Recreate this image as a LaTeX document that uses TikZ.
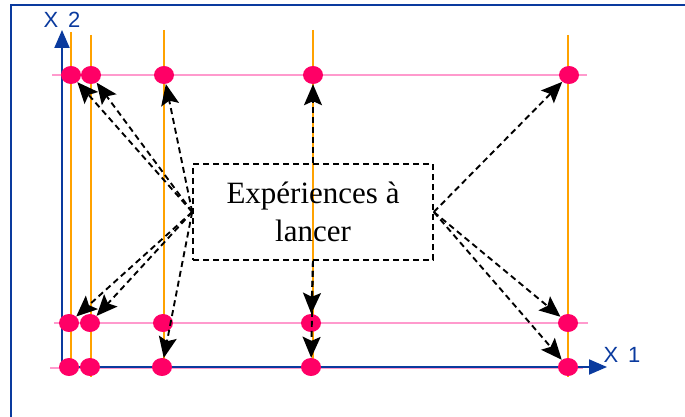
\documentclass[tikz,border=0pt]{standalone}
\usepackage{fontspec}
\setmainfont{Liberation Serif}
\setsansfont{Liberation Sans}
\usetikzlibrary{arrows.meta,positioning,shapes.geometric}
\definecolor{mAxis}{HTML}{0A3A9E}
\definecolor{mLevel}{HTML}{FFA200}
\definecolor{mGrid}{HTML}{FF9ACD}
\definecolor{mDot}{HTML}{FF0066}

\begin{document}
\begin{tikzpicture}[x=1pt,y=-1pt,>=Stealth,
    level/.style={mLevel,line width=2pt},
    gridline/.style={mGrid,line width=1.6pt},
    axis/.style={mAxis,line width=2pt,-{Triangle[length=18pt,width=15pt]}},
    expdot/.style={ellipse,fill=mDot,minimum width=20pt,minimum height=18pt,inner sep=0pt},
    launch/.style={dashed,dash pattern=on 6pt off 4pt,line width=1.9pt,
                   -{Stealth[length=21pt,width=18pt,inset=4pt]}},
    axlabel/.style={mAxis,font=\sffamily\fontsize{22}{24}\selectfont}]
  \clip (0,0) rectangle (685,417);
  % outer frame (runs off the page on the right and bottom)
  \draw[mAxis,line width=1.8pt] (11,5) rectangle (700,430);

  % levels of factor 2 (pink) and factor 1 (orange)
  \draw[gridline] (52,75) -- (587,75);
  \draw[gridline] (54,323) -- (588,323);
  \draw[gridline] (50,368) -- (583,368);
  \draw[level] (71,32) -- (71,374);
  \draw[level] (91,35) -- (91,377);
  \draw[level] (164,30) -- (164,375);
  \draw[level] (313,30) -- (313,375);
  \draw[level] (568,35) -- (568,377);

  % axes
  \coordinate (o) at (62,367);
  \draw[axis] (o) -- (62,30);
  \draw[axis] (o) -- (607,367);
  \node[axlabel] (x2) at (62,20) {X\hspace{0.45em}2};
  \node[axlabel] (x1) at (622,355) {X\hspace{0.45em}1};

  % design points
  \foreach \n/\x in {1/71,2/91,3/164,4/313,5/569}
    \node[expdot] (t\n) at (\x,75) {};
  \foreach \n/\x in {1/69,2/90,3/163,4/311,5/568}
    \node[expdot] (m\n) at (\x,323) {};
  \foreach \n/\x in {1/69,2/90,3/162,4/311,5/568}
    \node[expdot] (b\n) at (\x,367) {};

  % box
  \node[draw,dashed,dash pattern=on 6pt off 4pt,line width=1.6pt,
        minimum width=240pt,minimum height=96pt,align=center,
        font=\fontsize{31}{38}\selectfont] (exp) at (313,212)
        {Expériences à\\lancer};

  % experiments to run
  \foreach \d in {t1,t2,t3,m1,m2,b3}
    \draw[launch] (exp.west) -- (\d);
  \draw[launch] (exp.north) -- (t4);
  \draw[launch] (exp.south) -- (m4);
  \draw[launch] (exp.south) -- (b4);
  \foreach \d in {t5,m5,b5}
    \draw[launch] (exp.east) -- (\d);
\end{tikzpicture}
\end{document}
